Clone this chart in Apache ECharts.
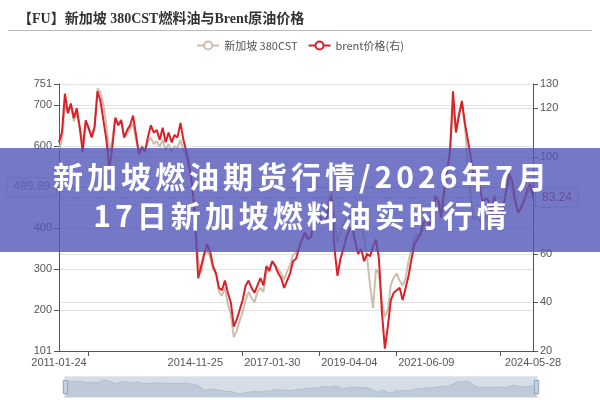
<!DOCTYPE html>
<html><head><meta charset="utf-8">
<script src="https://cdn.jsdelivr.net/npm/echarts@6/dist/echarts.min.js"></script>
<style>
html,body{margin:0;padding:0;background:#fff;}
#wrap{position:relative;width:600px;height:400px;overflow:hidden;}
#chart{width:600px;height:400px;}
#banner{position:absolute;left:0;top:148px;width:600px;height:104px;background:rgba(81,86,184,0.8);color:#fff;font-family:"Noto Sans CJK SC";font-weight:bold;font-size:30px;text-align:center;pointer-events:none;padding-top:8px;box-sizing:border-box;}
#banner div{height:39px;line-height:39px;letter-spacing:4px;padding-left:4px;white-space:nowrap;}
</style></head>
<body><div id="wrap"><div id="chart"></div><div id="banner"><div id="l1"></div><div id="l2"></div></div></div>
<script>
const titleText = '【FU】新加坡 380CST燃料油与Brent原油价格';
const bannerLines = ['新加坡燃油期货行情/2026年7月', '17日新加坡燃料油实时行情'];
const seriesNames = ['新加坡 380CST', 'brent价格(右)'];
const startYear = 2011;
const xLabelDates = ['2011-01-24', '2014-11-25', '2017-01-30', '2019-04-04', '2021-06-09', '2024-05-28'];
const xLabelSlots = [0, 46, 72, 98, 124, 160];
const xTickSlots = [10, 62, 88, 114, 149];
const leftRange = [101, 751];
const rightRange = [20, 130];
const pointerValues = [499.89, 83.24];

const fuel380 = [
  590, 615, 700, 680, 700, 660, 680, 645, 610, 650, 640, 625,
  650, 740, 730, 700, 650, 585, 615, 670, 655, 665, 620, 630,
  640, 655, 615, 585, 600, 590, 610, 620, 605, 612, 598, 615,
  590, 605, 585, 600, 595, 615, 590, 575, 545, 510, 430, 320,
  290, 335, 345, 330, 300, 290, 245, 235, 255, 215, 190, 135,
  150, 175, 195, 225, 245, 230, 220, 245, 255, 245, 290, 305,
  320, 310, 300, 290, 275, 295, 310, 335, 340, 355, 370, 385,
  380, 375, 405, 450, 460, 450, 435, 470, 485, 420, 365, 390,
  410, 425, 430, 420, 410, 395, 410, 375, 330, 260, 206, 300,
  290, 220, 185, 200, 262, 280, 290, 272, 260, 278, 320, 350,
  375, 385, 385, 400, 415, 425, 430, 470, 470, 450, 480, 540,
  600, 690, 640, 680, 705, 650, 560, 470, 420, 430, 420, 400,
  430, 420, 425, 445, 420, 415, 450, 490, 520, 490, 460, 440,
  455, 470, 480, 495, 499.89
];
const brent = [
  106, 110, 126, 118, 122, 116, 120, 112, 102, 115, 112, 108,
  112, 127, 123, 115, 107, 95, 104, 116, 113, 115, 108, 111,
  113, 117, 109, 101, 104, 102, 108, 113, 110, 111, 107, 112,
  106, 110, 106, 109, 108, 114, 107, 102, 96, 88, 72, 50,
  55, 60, 64, 61, 55, 52, 46, 45, 49, 44, 40, 30,
  33, 37, 41, 47, 49, 46, 44, 47, 50, 47, 55, 53,
  57, 55, 52, 50, 46, 49, 52, 57, 58, 62, 66, 69,
  66, 67, 72, 77, 76, 73, 73, 79, 84, 62, 51, 58,
  62, 67, 70, 71, 65, 60, 62, 57, 60, 59, 63, 66,
  58, 36, 21, 30, 41, 44, 45, 46, 41, 46, 51, 58,
  64, 66, 68, 73, 74, 72, 74, 84, 82, 75, 86, 94,
  102, 127, 110, 117, 123, 114, 107, 100, 92, 94, 88, 81,
  83, 82, 77, 84, 75, 74, 80, 86, 93, 90, 82, 77,
  79, 82, 86, 89, 83.24
];

const categories = fuel380.map((_, i) => {
  const y = startYear + Math.floor(i / 12);
  const m = (i % 12) + 1;
  return y + '-' + (m < 10 ? '0' + m : m);
});
xLabelSlots.forEach((s, k) => { categories[s] = xLabelDates[k]; });

document.getElementById('l1').textContent = bannerLines[0];
document.getElementById('l2').textContent = bannerLines[1];

const axisColor = '#555';
const labelFont = { color: '#555', fontSize: 11, fontFamily: 'Liberation Sans' };
const cFuel = '#cbbfad';
const cBrent = '#db2028';

const chart = echarts.init(document.getElementById('chart'), null, { renderer: 'canvas' });
chart.setOption({
  animation: false,
  title: {
    text: titleText, left: 13, top: 7,
    textStyle: { fontFamily: '"Liberation Serif","Noto Sans CJK SC",serif', fontWeight: 'bold', fontSize: 14, color: '#333' }
  },
  graphic: [{ type: 'line', shape: { x1: 8, y1: 30.5, x2: 592, y2: 30.5 }, style: { stroke: '#bbb', lineWidth: 1 } }],
  legend: {
    top: 35, left: 'center', itemWidth: 22, itemHeight: 10, itemGap: 10,
    textStyle: { color: '#555', fontSize: 11, fontFamily: '"Noto Sans CJK SC"' },
    data: seriesNames
  },
  grid: { left: 59, right: 67, top: 84, bottom: 49 },
  xAxis: {
    type: 'category', boundaryGap: false, data: categories,
    axisLine: { lineStyle: { color: axisColor } },
    axisTick: { length: 5, interval: (i) => xTickSlots.includes(i), lineStyle: { color: axisColor } },
    axisLabel: Object.assign({ interval: (i) => xLabelSlots.includes(i), margin: 6, showMinLabel: true, showMaxLabel: true }, labelFont),
    splitLine: { show: false }
  },
  yAxis: [
    {
      type: 'value', min: leftRange[0], max: leftRange[1], position: 'left',
      axisLine: { show: true, lineStyle: { color: axisColor } },
      axisTick: { show: true, length: 5, lineStyle: { color: axisColor } },
      axisLabel: Object.assign({ margin: 7 }, labelFont),
      splitLine: { lineStyle: { color: '#e2e2e2' } },
      axisPointer: {
        show: true, status: 'show', value: pointerValues[0], triggerTooltip: false,
        lineStyle: { color: '#bbb', type: 'dashed' },
        label: { show: true, precision: 2, backgroundColor: '#fff', borderColor: '#ccc', borderWidth: 1, color: '#888', fontSize: 12, padding: [3, 6] }
      }
    },
    {
      type: 'value', min: rightRange[0], max: rightRange[1], position: 'right',
      axisLine: { show: true, lineStyle: { color: axisColor } },
      axisTick: { show: true, length: 5, lineStyle: { color: axisColor } },
      axisLabel: Object.assign({ margin: 7 }, labelFont),
      splitLine: { lineStyle: { color: '#e2e2e2' } },
      axisPointer: {
        show: true, status: 'show', value: pointerValues[1], triggerTooltip: false,
        lineStyle: { color: '#bbb', type: 'dashed' },
        label: { show: true, precision: 2, backgroundColor: '#fff', borderColor: '#ccc', borderWidth: 1, color: '#c0282e', fontSize: 12, padding: [3, 6] }
      }
    }
  ],
  dataZoom: [{
    type: 'slider', xAxisIndex: 0, start: 0, end: 100,
    left: 62, right: 65, bottom: 2, height: 22,
    showDetail: false, brushSelect: false, moveHandleSize: 0,
    borderColor: '#e4e7ee', backgroundColor: '#eef1f6',
    fillerColor: 'rgba(167,183,204,0.35)',
    dataBackground: { lineStyle: { color: '#b9c3d1', width: 1 }, areaStyle: { color: '#cdd5e1', opacity: 1 } },
    selectedDataBackground: { lineStyle: { color: '#b9c3d1', width: 1 }, areaStyle: { color: '#cdd5e1', opacity: 1 } },
    handleIcon: 'path://M0,0 L10,0 L10,30 L0,30 Z',
    handleSize: '60%',
    handleStyle: { color: '#c5d0de', borderColor: '#8fa3bd' }
  }],
  series: [
    {
      name: seriesNames[0], type: 'line', yAxisIndex: 0, data: fuel380,
      symbol: 'emptyCircle', showSymbol: false, symbolSize: 8,
      lineStyle: { color: cFuel, width: 2 }, itemStyle: { color: cFuel }
    },
    {
      name: seriesNames[1], type: 'line', yAxisIndex: 1, data: brent,
      symbol: 'emptyCircle', showSymbol: false, symbolSize: 8,
      lineStyle: { color: cBrent, width: 2 }, itemStyle: { color: cBrent }
    }
  ]
});
</script>
</body></html>
